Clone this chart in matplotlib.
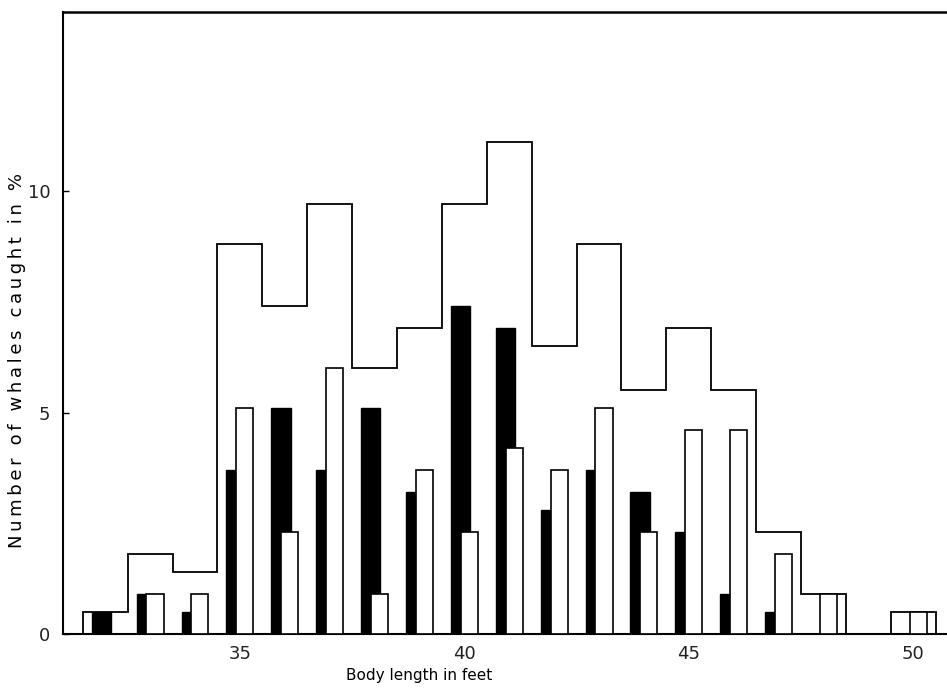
import numpy as np
import matplotlib
matplotlib.use("Agg")
import matplotlib.pyplot as plt

# body length classes (feet)
lengths = np.arange(32, 51)
# percentage of whales per class
black = [0.5, 0.9, 0.5, 3.7, 5.1, 3.7, 5.1, 3.2, 7.4, 6.9,
         2.8, 3.7, 3.2, 2.3, 0.9, 0.5, 0.0, 0.0, 0.0]
white = [0.0, 0.9, 0.9, 5.1, 2.3, 6.0, 0.9, 3.7, 2.3, 4.2,
         3.7, 5.1, 2.3, 4.6, 4.6, 1.8, 0.9, 0.0, 0.5]
total = [0.5, 1.8, 1.4, 8.8, 7.4, 9.7, 6.0, 6.9, 9.7, 11.1,
         6.5, 8.8, 5.5, 6.9, 5.5, 2.3, 0.9, 0.0, 0.5]
xticks = [35, 40, 45, 50]
yticks = [0, 5, 10]


def spaced(s):
    return "\u2009".join(s)


fig = plt.figure(figsize=(9.47, 6.94), dpi=100)
ax = fig.add_axes([0.0665, 0.0865, 0.9335, 0.896])

edges = np.arange(lengths[0] - 0.5, lengths[-1] + 1.0, 1.0)
ax.stairs(total, edges, baseline=0, color="black", linewidth=1.3, zorder=2)

ax.bar(lengths - 0.085, black, width=0.43, color="black",
       edgecolor="black", linewidth=1.0, zorder=3)
ax.bar(lengths + 0.11, white, width=0.38, facecolor="white",
       edgecolor="black", linewidth=1.2, zorder=4)

ax.set_xlim(31.06, 50.75)
ax.set_ylim(0, 14.04)
ax.set_xticks(xticks)
ax.set_yticks(yticks)
ax.tick_params(axis="y", direction="in", length=4, width=1.0, pad=9, labelsize=13)
ax.tick_params(axis="x", length=0, pad=8, labelsize=13)
for lab in ax.get_xticklabels() + ax.get_yticklabels():
    lab.set_family(["Liberation Sans Narrow", "DejaVu Sans"])
    lab.set_color("#222222")

ax.spines["right"].set_visible(False)
ax.spines["top"].set_linewidth(1.8)
ax.spines["left"].set_linewidth(1.5)
ax.spines["bottom"].set_linewidth(1.5)

ax.set_xlabel("Body length in feet", fontsize=11)
ax.xaxis.set_label_coords(0.403, -0.055)
ax.set_ylabel(spaced("Number of whales caught in %"), fontsize=13)
ax.yaxis.set_label_coords(-0.042, 0.439)

fig.savefig("out.png", dpi=100)
